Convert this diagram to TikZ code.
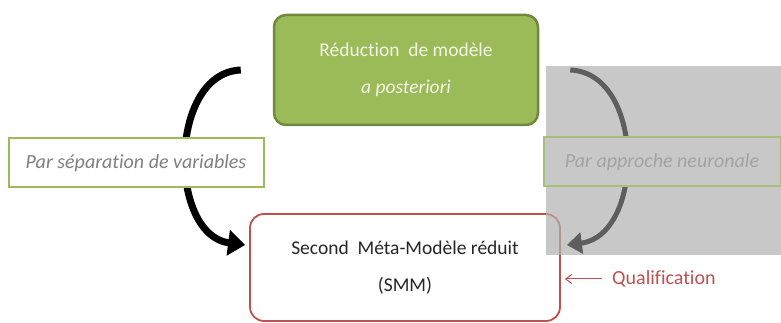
\documentclass[tikz,border=0pt]{standalone}
\usepackage{fontspec}
\setmainfont{Carlito}[Ligatures=NoCommon]
\usetikzlibrary{arrows.meta}
\definecolor{grfill}{HTML}{9BBB59}
\definecolor{grdark}{HTML}{71893F}
\definecolor{grtext}{HTML}{F2F5E6}
\definecolor{redb}{HTML}{C0504D}
\definecolor{labtext}{HTML}{7F7F85}
\definecolor{labtextb}{HTML}{A3A3A3}
\definecolor{shade}{HTML}{C8C8C8}
\definecolor{shadeov}{RGB}{176,176,176}
\definecolor{arrgray}{HTML}{5E5E5E}
\definecolor{txtdark}{HTML}{262626}
\tikzset{
  x=1pt,y=1pt,
  mainfont/.style={font=\fontsize{19.5}{37}\selectfont, align=center},
  greenbox/.style={mainfont, draw=grdark, fill=grfill, line width=2.5pt, rounded corners=12pt,
    minimum width=264pt, minimum height=110pt, text=grtext, inner sep=0pt},
  redbox/.style={mainfont, draw=redb, line width=1.8pt, rounded corners=14pt, fill=white,
    minimum width=310pt, minimum height=107pt, text=txtdark, inner sep=0pt},
  labbox/.style={font=\fontsize{20}{22}\selectfont\itshape, draw=grfill, line width=2pt,
    minimum height=49pt, inner sep=0pt, anchor=center},
  bigarrow/.style={line width=7pt, -{Triangle[length=17pt,width=25pt]}},
  grayarrow/.style={line width=5pt, draw=arrgray, -{Triangle[length=15pt,width=21pt]}, color=arrgray},
}
\begin{document}
\begin{tikzpicture}
\useasboundingbox (0,0) rectangle (781,323);
% red box
\node[redbox] (smm) at (405,55.5) {Second~ Méta-Modèle réduit\\(SMM)};
% gray overlay
\fill[shadeov, opacity=0.7] (546,68) rectangle (781,257);
% green box
\node[greenbox] (red) at (406,253) {Réduction~ de modèle\\\itshape a posteriori};
% arrows
\draw[bigarrow] ([xshift=-32pt]red.west) .. controls (168,250) and (168,88) .. ([shift={(-4pt,22.5pt)}]smm.west);
\draw[grayarrow] ([xshift=31pt]red.east) .. controls (645,250) and (645,88) .. ([shift={(6pt,22.5pt)}]smm.east);
% right label
\node[labbox, draw=grfill!70!shade, fill=shade, text=labtextb, minimum width=237pt] (neur) at (662,161) {Par approche neuronale};
% left label
\node[labbox, fill=white, text=labtext, minimum width=255pt] (sep) at (136,160) {Par séparation de variables};
% qualification
\node[anchor=west, font=\fontsize{20}{22}\selectfont, text=redb, inner sep=0pt] (qual) at (612,44) {Qualification};
\draw[redb, line width=1pt, -{Straight Barb[length=6pt,width=9pt]}] ([xshift=-10pt]qual.west) -- ([shift={(4pt,-11.5pt)}]smm.east);
\end{tikzpicture}
\end{document}
